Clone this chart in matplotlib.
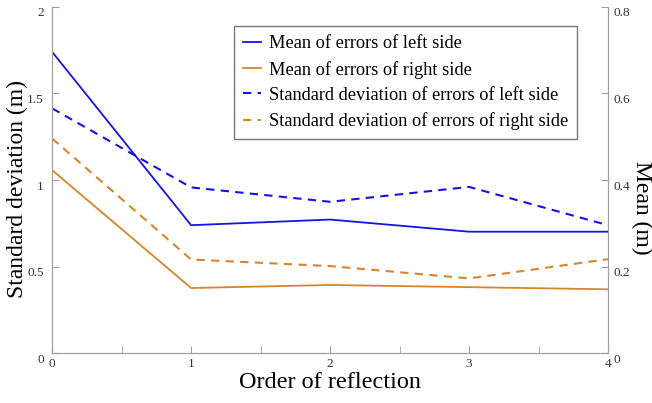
import matplotlib
matplotlib.use('Agg')
import matplotlib.pyplot as plt
import matplotlib.transforms as mtrans
import numpy as np

# Dades
orders = [0, 1, 2, 3, 4]
mean_left = [0.696, 0.296, 0.309, 0.281, 0.281]
mean_right = [0.423, 0.151, 0.158, 0.153, 0.148]
std_left = [1.414, 0.958, 0.875, 0.961, 0.740]
std_right = [1.240, 0.542, 0.504, 0.433, 0.544]

plt.rcParams['font.family'] = ['Liberation Serif', 'DejaVu Serif']

blue = '#1414e6'
orange = '#d6862a'
gray = '#a0a0a0'

fig = plt.figure(figsize=(6.52, 4.03), dpi=100)
ax1 = fig.add_axes([0.080, 0.123, 0.8525, 0.860])
ax2 = ax1.twinx()

# EIX esquerre: desviació estàndard (discontinua)
l3, = ax1.plot(orders, std_left, color=blue, lw=1.5, ls=(0, (4, 3)),
               label='Standard deviation of errors of left side')
l4, = ax1.plot(orders, std_right, color=orange, lw=1.5, ls=(0, (4, 3)),
               label='Standard deviation of errors of right side')
ax1.set_ylim(0, 2)
ax1.set_xlim(0, 4)
ax1.set_yticks([0, 0.5, 1, 1.5, 2])
ax1.set_yticklabels(['0', '0.5', '1', '1.5', '2'])
ax1.set_xticks(orders)
ax1.set_xticks(np.arange(0, 4.01, 0.5), minor=True)
ax1.set_ylabel('Standard deviation (m)', fontsize=17, va='center')
ax1.yaxis.set_label_coords(-0.062, 0.475)
ax1.set_xlabel('Order of reflection', fontsize=17.5, labelpad=1)

# EIX dret: mitjana (contínua)
l1, = ax2.plot(orders, mean_left, color=blue, lw=1.3,
               label='Mean of errors of left side')
l2, = ax2.plot(orders, mean_right, color=orange, lw=1.3,
               label='Mean of errors of right side')
ax2.set_ylim(0, 0.8)
ax2.set_yticks([0, 0.2, 0.4, 0.6, 0.8])
ax2.set_yticklabels(['0', '0.2', '0.4', '0.6', '0.8'])
ax2.set_ylabel('Mean (m)', fontsize=17, rotation=270, va='center')
ax2.yaxis.set_label_coords(1.060, 0.42)

for ax in (ax1, ax2):
    ax.spines['top'].set_visible(False)
    for s in ('left', 'right', 'bottom'):
        ax.spines[s].set_color(gray)
    ax.tick_params(which='both', direction='in', color=gray, labelsize=9.5,
                   labelcolor='#333333', length=5)
ax1.tick_params(axis='x', which='minor', length=5)
ax1.tick_params(axis='y', pad=6)
ax2.tick_params(axis='y', pad=4)

# etiquetes dels eixos Y una mica cap avall, com a l'original
shift = mtrans.ScaledTranslation(0, -5 / 100, fig.dpi_scale_trans)
for lab in ax1.get_yticklabels() + ax2.get_yticklabels():
    lab.set_transform(lab.get_transform() + shift)

leg = ax2.legend(handles=[l1, l2, l3, l4], loc='upper left',
                 bbox_to_anchor=(0.327, 0.944), fontsize=13.2, handlelength=1.0,
                 handletextpad=0.4, borderpad=0.5, labelspacing=0.45,
                 borderaxespad=0, fancybox=False, framealpha=1)
leg.get_frame().set_edgecolor('#777777')
leg.get_frame().set_linewidth(1.0)

plt.savefig('out.png', dpi=100)
